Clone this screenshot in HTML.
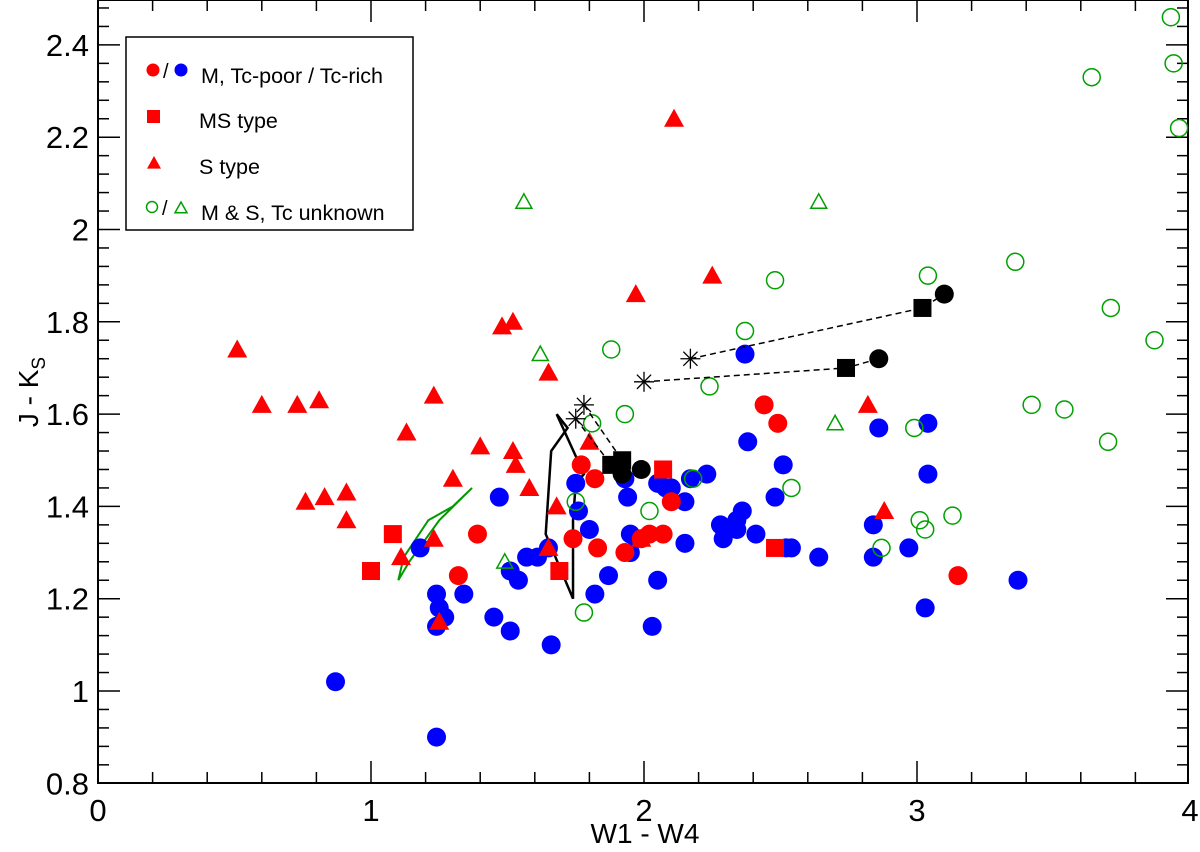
<!DOCTYPE html>
<html><head><meta charset="utf-8"><style>
body{margin:0;background:#fff;}
svg{display:block;font-family:"Liberation Sans",Arial,sans-serif;}
</style></head><body>
<svg id="chart" width="1200" height="852" xmlns="http://www.w3.org/2000/svg"></svg>
<script>
const xTicks=[0,1,2,3,4];
const yTicks=[0.8,1,1.2,1.4,1.6,1.8,2,2.2,2.4];
const yTickLabels=["0.8","1","1.2","1.4","1.6","1.8","2","2.2","2.4"];
const redTriX=[0.51,0.60,0.73,0.81,0.76,0.83,0.91,0.91,1.13,1.23,1.23,1.11,1.25,1.30,1.40,1.48,1.52,1.52,1.53,1.58,1.65,1.65,1.68,1.80,1.97,1.99,2.11,2.25,2.82,2.88];
const redTriY=[1.74,1.62,1.62,1.63,1.41,1.42,1.43,1.37,1.56,1.64,1.33,1.29,1.15,1.46,1.53,1.79,1.80,1.52,1.49,1.44,1.31,1.69,1.40,1.54,1.86,1.33,2.24,1.90,1.62,1.39];
const redSqX=[1.0,1.08,1.69,2.07,2.48];
const redSqY=[1.26,1.34,1.26,1.48,1.31];
const redCirX=[1.77,1.82,1.39,1.32,1.74,1.83,1.93,2.10,1.99,2.02,2.07,2.44,2.49,3.15];
const redCirY=[1.49,1.46,1.34,1.25,1.33,1.31,1.30,1.41,1.33,1.34,1.34,1.62,1.58,1.25];
const blueX=[1.47,1.18,1.24,1.25,1.27,1.24,1.34,1.45,1.51,1.51,1.54,1.57,1.61,1.65,1.75,1.76,1.80,1.66,1.82,1.87,1.93,1.94,1.95,1.95,2.03,2.05,2.05,2.08,2.10,2.15,2.15,2.17,2.23,2.28,2.29,2.34,2.34,2.36,2.41,2.38,2.51,2.48,2.52,2.54,2.64,0.87,1.24,2.37,2.86,3.04,3.04,2.84,2.84,2.97,3.03,3.37];
const blueY=[1.42,1.31,1.21,1.18,1.16,1.14,1.21,1.16,1.13,1.26,1.24,1.29,1.29,1.31,1.45,1.39,1.35,1.10,1.21,1.25,1.46,1.42,1.34,1.30,1.14,1.24,1.45,1.44,1.44,1.41,1.32,1.46,1.47,1.36,1.33,1.35,1.37,1.39,1.34,1.54,1.49,1.42,1.31,1.31,1.29,1.02,0.90,1.73,1.57,1.58,1.47,1.36,1.29,1.31,1.18,1.24];
const greenCirX=[3.93,3.64,3.94,3.96,3.36,3.04,2.48,2.37,1.88,3.71,3.87,3.42,3.54,3.70,2.99,2.24,1.93,1.81,1.75,2.02,2.18,2.54,1.78,3.01,3.03,3.13,2.87];
const greenCirY=[2.46,2.33,2.36,2.22,1.93,1.90,1.89,1.78,1.74,1.83,1.76,1.62,1.61,1.54,1.57,1.66,1.60,1.58,1.41,1.39,1.46,1.44,1.17,1.37,1.35,1.38,1.31];
const greenTriX=[1.56,2.64,1.62,2.70,1.49];
const greenTriY=[2.06,2.06,1.73,1.58,1.28];
const starX=[1.78,1.75,2.00,2.17];
const starY=[1.62,1.59,1.67,1.72];
const blkSqX=[1.92,1.88,2.74,3.02];
const blkSqY=[1.50,1.49,1.70,1.83];
const blkCirX=[1.99,1.92,2.86,3.10];
const blkCirY=[1.48,1.47,1.72,1.86];
const trackBX=[1.68,1.78,1.75,1.74,1.74,1.64,1.66,1.72,1.68];
const trackBY=[1.60,1.47,1.45,1.37,1.20,1.34,1.52,1.57,1.60];
const trackGX=[1.10,1.14,1.25,1.37,1.30,1.21,1.12,1.10];
const trackGY=[1.24,1.28,1.37,1.44,1.40,1.37,1.29,1.24];

const NS="http://www.w3.org/2000/svg";
const svg=document.getElementById('chart');
const L=98,R=1188,T=0,B=783;
const sx=v=>L+v*273;
const sy=v=>691-(v-1)*461.5;
function mk(t,a,p){const e=document.createElementNS(NS,t);for(const k in a)e.setAttribute(k,a[k]);(p||svg).appendChild(e);return e;}

const frame=mk('rect',{x:L,y:T,width:R-L,height:B-T,fill:'none',stroke:'#000','stroke-width':2});


const xg=mk('g',{});


for(let i=0;i<=20;i++){const v=i*0.2;const X=Math.min(sx(v),R);const len=(i%5==0)?22:11;
 mk('line',{x1:X,y1:B,x2:X,y2:B-len,stroke:'#000','stroke-width':1.5},xg);
 mk('line',{x1:X,y1:T,x2:X,y2:T+len,stroke:'#000','stroke-width':1.5},xg);}
xTicks.forEach(v=>{const t=mk('text',{x:sx(v),y:821,'font-size':31,'text-anchor':'middle'},xg);t.textContent=v;
 
 });
const yg=mk('g',{});


for(let i=0;i<=42;i++){const v=0.8+i*0.04;const Y=sy(v);if(Y<T)break;const len=(i%5==0)?22:11;
 mk('line',{x1:L,y1:Y,x2:L+len,y2:Y,stroke:'#000','stroke-width':1.5},yg);
 mk('line',{x1:R,y1:Y,x2:R-len,y2:Y,stroke:'#000','stroke-width':1.5},yg);}
yTicks.forEach((v,i)=>{const t=mk('text',{x:89,y:sy(v)+11,'font-size':31,'text-anchor':'end'},yg);t.textContent=yTickLabels[i];
 
 });
const xt=mk('text',{x:645,y:843,'font-size':28,'text-anchor':'middle'});xt.textContent='W1 - W4';


const yt=mk('text',{x:0,y:0,'font-size':28,'text-anchor':'middle',transform:'translate(38,392) rotate(-90)'});
yt.innerHTML='J - K<tspan font-size="19" dy="7">S</tspan>';



function tri(g,x,y,s,fill,stroke){return mk('polygon',{points:`${x},${y-s} ${x-s},${y+s*0.8} ${x+s},${y+s*0.8}`,fill:fill,stroke:stroke||'none','stroke-width':1.5},g);}
function group(name){const g=mk('g',{});return g;}

const gt=group('green-track');
mk('polyline',{points:trackGX.map((v,i)=>sx(v)+','+sy(trackGY[i])).join(' '),fill:'none',stroke:'#009900','stroke-width':2},gt);
const bt=group('black-track');
mk('polyline',{points:trackBX.map((v,i)=>sx(v)+','+sy(trackBY[i])).join(' '),fill:'none',stroke:'#000','stroke-width':2.5},bt);

const bl=group('blue-tc-rich');
blueX.forEach((v,i)=>{mk('circle',{cx:sx(v),cy:sy(blueY[i]),r:9.5,fill:'#0000ff'},bl);});
const rc=group('red-tc-poor');
redCirX.forEach((v,i)=>{mk('circle',{cx:sx(v),cy:sy(redCirY[i]),r:9.5,fill:'#ff0000'},rc);});
const rs=group('ms-type');
redSqX.forEach((v,i)=>{mk('rect',{x:sx(v)-9,y:sy(redSqY[i])-9,width:18,height:18,fill:'#ff0000'},rs);});
const rt=group('s-type');
redTriX.forEach((v,i)=>{tri(rt,sx(v),sy(redTriY[i]),10,'#ff0000');});
const gc=group('unknown-circles');
greenCirX.forEach((v,i)=>{mk('circle',{cx:sx(v),cy:sy(greenCirY[i]),r:8.5,fill:'none',stroke:'#00a000','stroke-width':1.5},gc);});
const gtr=group('unknown-triangles');
greenTriX.forEach((v,i)=>{tri(gtr,sx(v),sy(greenTriY[i]),8,'none','#00a000');});

const ms=group('model-sequences');
starX.forEach((v,i)=>{
 mk('polyline',{points:`${sx(v)},${sy(starY[i])} ${sx(blkSqX[i])},${sy(blkSqY[i])} ${sx(blkCirX[i])},${sy(blkCirY[i])}`,fill:'none',stroke:'#000','stroke-width':1.5,'stroke-dasharray':'6,4'},ms);
 const X=sx(v),Y=sy(starY[i]);
 for(let a=0;a<4;a++){const an=a*Math.PI/4;mk('line',{x1:X-10*Math.cos(an),y1:Y-10*Math.sin(an),x2:X+10*Math.cos(an),y2:Y+10*Math.sin(an),stroke:'#000','stroke-width':1.3},ms);}
 mk('rect',{x:sx(blkSqX[i])-9,y:sy(blkSqY[i])-9,width:18,height:18,fill:'#000'},ms);
 mk('circle',{cx:sx(blkCirX[i]),cy:sy(blkCirY[i]),r:9.5,fill:'#000'},ms);
});

const lg=group('legend');
mk('rect',{x:126,y:37,width:287,height:193,fill:'#fff',stroke:'#000','stroke-width':1.5},lg);
mk('circle',{cx:153,cy:70,r:6.5,fill:'#ff0000'},lg);
let s=mk('text',{x:163,y:78,'font-size':20},lg);s.textContent='/';
mk('circle',{cx:181,cy:70,r:6.5,fill:'#0000ff'},lg);
mk('rect',{x:147,y:110,width:13,height:13,fill:'#ff0000'},lg);
tri(lg,154,163,7,'#ff0000');
mk('circle',{cx:152,cy:207,r:5.5,fill:'none',stroke:'#00a000','stroke-width':1.5},lg);
s=mk('text',{x:162,y:215,'font-size':20},lg);s.textContent='/';
tri(lg,181,208,6,'none','#00a000');
[['M, Tc-poor / Tc-rich',201,83],['MS type',199,128],['S type',199,174],['M & S, Tc unknown',201,220]].forEach(d=>{
 const t=mk('text',{x:d[1],y:d[2],'font-size':21.5},lg);t.textContent=d[0];
 
 });
</script>
</body></html>
